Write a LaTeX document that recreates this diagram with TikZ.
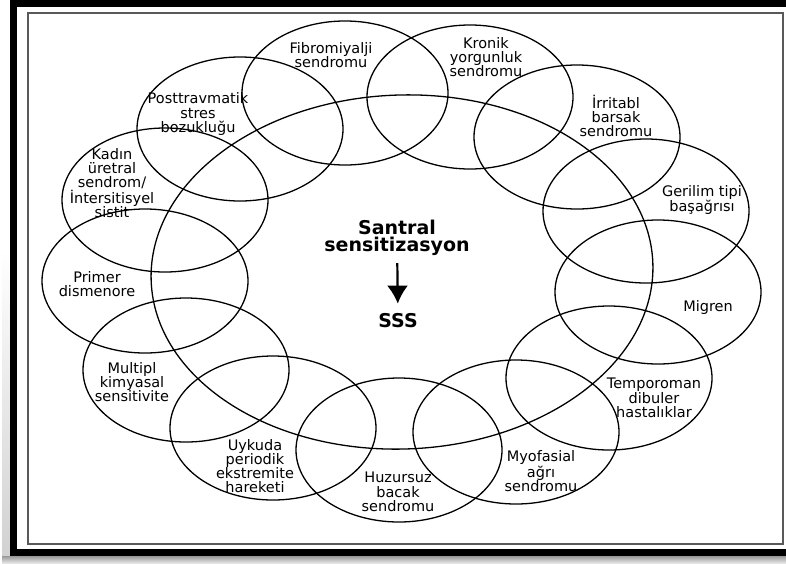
\documentclass[tikz,border=0pt]{standalone}
\usepackage{fontspec}
\setmainfont{DejaVu Sans}
\usetikzlibrary{arrows.meta,shapes.geometric}

\begin{document}
\begin{tikzpicture}[x=1pt,y=-1pt,>=Latex,
  ring/.style={draw,ellipse,line width=1.3pt,minimum width=206pt,minimum height=144pt,inner sep=0pt},
  lbl/.style={align=center,inner sep=1pt,font=\fontsize{14.5}{14.2}\selectfont},
  main/.style={align=center,inner sep=2pt,font=\bfseries\fontsize{19}{17.5}\selectfont}]
\useasboundingbox (0,0) rectangle (786,563);
\clip (0,0) rectangle (786,563);
\fill[white] (0,0) rectangle (786,563);
% shadow and frame
\shade[top color=white,bottom color=black!18] (2,250) rectangle (10,556);
\shade[top color=black!40,bottom color=black!10] (2,556) rectangle (786,563);
\draw[line width=7pt] (13.5,3) rectangle (800,552);
\draw[black!65,line width=1.5pt] (28,13) rectangle (783,544);
% rings
\node[ring,minimum width=502pt,minimum height=354pt,rotate=2] (big) at (402,272) {};
\node[ring] (fibro) at (345,93) {};
\node[ring] (kronik) at (470,97) {};
\node[ring] (irritabl) at (577,137) {};
\node[ring] (gerilim) at (646,211) {};
\node[ring] (migren) at (658,292) {};
\node[ring] (temporo) at (609,378) {};
\node[ring] (myofas) at (516,432) {};
\node[ring] (huzur) at (399,450) {};
\node[ring] (uykuda) at (273,428) {};
\node[ring] (multipl) at (186,370) {};
\node[ring] (primer) at (145,281) {};
\node[ring] (kadin) at (165,200) {};
\node[ring] (posttrav) at (240,129) {};
% labels
\node[lbl] (fibrotxt) at (331,55) {Fibromiyalji\\sendromu};
\node[lbl] (kroniktxt) at (486,57) {Kronik\\yorgunluk\\sendromu};
\node[lbl] (irritabltxt) at (616,116) {İrritabl\\barsak\\sendromu};
\node[lbl] (geriltxt) at (702,200) {Gerilim tipi\\başağrısı};
\node[lbl] (migrentxt) at (708,307) {Migren};
\node[lbl] (temporotxt) at (654,398) {Temporoman\\dibuler\\hastalıklar};
\node[lbl] (myofastxt) at (541,471) {Myofasial\\ağrı\\sendromu};
\node[lbl] (huzurtxt) at (398,492) {Huzursuz\\bacak\\sendromu};
\node[lbl] (uykudatxt) at (255,466) {Uykuda\\periodik\\ekstremite\\hareketi};
\node[lbl] (multipltxt) at (132,382) {Multipl\\kimyasal\\sensitivite};
\node[lbl] (primertxt) at (97,284) {Primer\\dismenore};
\node[lbl] (kadintxt) at (112,183) {Kadın\\üretral\\sendrom/\\İntersitisyel\\sistit};
\node[lbl] (posttravtxt) at (198,114) {Posttravmatik\\stres\\bozukluğu};
% centre
\node[main] (cs) at (397,238) {Santral\\sensitizasyon};
\node[main] (sss) at (398,321) {SSS};
\draw[line width=2.2pt,shorten <=5pt,shorten >=8pt,-{Latex[length=18pt,width=21pt]}] (cs) -- (sss);
\end{tikzpicture}
\end{document}
